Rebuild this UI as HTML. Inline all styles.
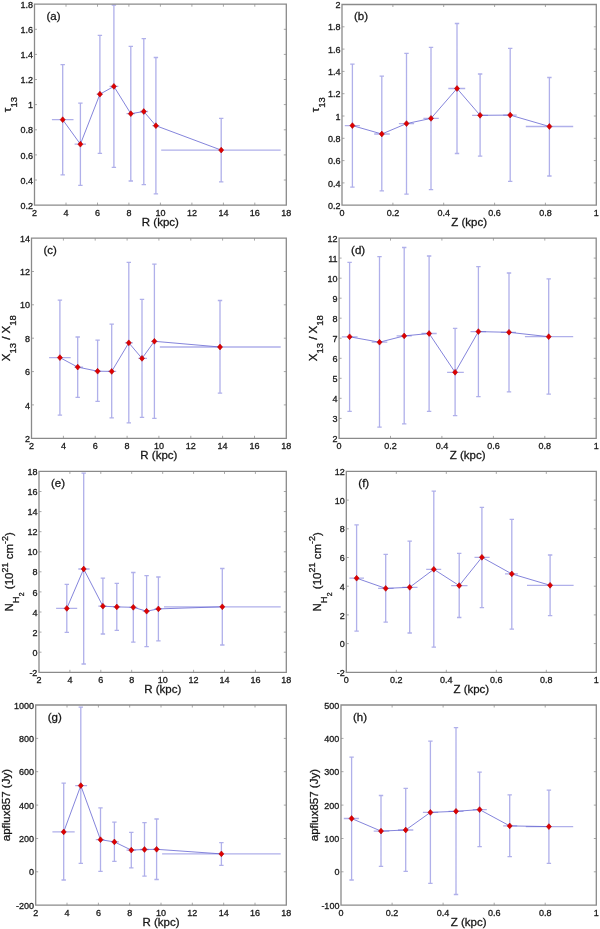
<!DOCTYPE html>
<html><head><meta charset="utf-8"><style>
html,body{margin:0;padding:0;background:#fff;}
svg{display:block;will-change:transform;}
text{font-family:"Liberation Sans",sans-serif;fill:#111;stroke:#222;stroke-width:0.3px;}
</style></head><body>
<svg width="600" height="929" viewBox="0 0 600 929">
<rect width="600" height="929" fill="#fff"/>
<path d="M62.7 64.6V174.9M60.5 64.6H64.9M60.5 174.9H64.9M51.9 119.7H73.5M80.4 103.1V185.3M78.2 103.1H82.6M78.2 185.3H82.6M74.6 144.2H86.0M99.9 35.4V153.3M97.7 35.4H102.1M97.7 153.3H102.1M96.6 94.2H102.7M113.9 5.2V167.3M111.7 5.2H116.1M111.7 167.3H116.1M109.6 86.4H118.3M130.8 46.4V181.0M128.6 46.4H133.0M128.6 181.0H133.0M126.5 113.7H135.0M143.8 38.6V184.7M141.6 38.6H146.0M141.6 184.7H146.0M139.9 111.5H148.1M155.9 57.5V193.8M153.7 57.5H158.1M153.7 193.8H158.1M152.3 125.7H159.3M221.2 118.4V181.9M219.0 118.4H223.4M219.0 181.9H223.4M161.2 150.1H280.7" stroke="#b0b0ea" stroke-width="1.3" fill="none"/>
<polyline points="62.7,119.7 80.4,144.2 99.9,94.2 113.9,86.4 130.8,113.7 143.8,111.5 155.9,125.7 221.2,150.1" stroke="#6464d2" stroke-width="0.8" fill="none"/>
<path d="M62.7 116.8L65.2 119.7L62.7 122.6L60.2 119.7ZM80.4 141.3L82.9 144.2L80.4 147.1L77.9 144.2ZM99.9 91.3L102.4 94.2L99.9 97.1L97.4 94.2ZM113.9 83.5L116.4 86.4L113.9 89.3L111.4 86.4ZM130.8 110.8L133.3 113.7L130.8 116.6L128.3 113.7ZM143.8 108.6L146.3 111.5L143.8 114.4L141.3 111.5ZM155.9 122.8L158.4 125.7L155.9 128.6L153.4 125.7ZM221.2 147.2L223.7 150.1L221.2 153.0L218.7 150.1Z" fill="#e00000" stroke="#b00000" stroke-width="0.6"/>
<path d="M66.0 205.1v-2.5M66.0 4.2v2.5M97.5 205.1v-2.5M97.5 4.2v2.5M128.9 205.1v-2.5M128.9 4.2v2.5M160.4 205.1v-2.5M160.4 4.2v2.5M191.9 205.1v-2.5M191.9 4.2v2.5M223.4 205.1v-2.5M223.4 4.2v2.5M254.8 205.1v-2.5M254.8 4.2v2.5M34.5 180.0h2.5M286.3 180.0h-2.5M34.5 154.9h2.5M286.3 154.9h-2.5M34.5 129.8h2.5M286.3 129.8h-2.5M34.5 104.6h2.5M286.3 104.6h-2.5M34.5 79.5h2.5M286.3 79.5h-2.5M34.5 54.4h2.5M286.3 54.4h-2.5M34.5 29.3h2.5M286.3 29.3h-2.5" stroke="#a8a8a8" stroke-width="1.0" fill="none"/>
<path d="M34.50 4.20H286.30V205.10H34.50Z" stroke="#8a8a8a" stroke-width="1.3" fill="none"/>
<text x="34.5" y="215.7" font-size="9" text-anchor="middle">2</text>
<text x="66.0" y="215.7" font-size="9" text-anchor="middle">4</text>
<text x="97.5" y="215.7" font-size="9" text-anchor="middle">6</text>
<text x="128.9" y="215.7" font-size="9" text-anchor="middle">8</text>
<text x="160.4" y="215.7" font-size="9" text-anchor="middle">10</text>
<text x="191.9" y="215.7" font-size="9" text-anchor="middle">12</text>
<text x="223.4" y="215.7" font-size="9" text-anchor="middle">14</text>
<text x="254.8" y="215.7" font-size="9" text-anchor="middle">16</text>
<text x="286.3" y="215.7" font-size="9" text-anchor="middle">18</text>
<text x="32.9" y="208.7" font-size="9" text-anchor="end">0.2</text>
<text x="32.9" y="183.6" font-size="9" text-anchor="end">0.4</text>
<text x="32.9" y="158.5" font-size="9" text-anchor="end">0.6</text>
<text x="32.9" y="133.4" font-size="9" text-anchor="end">0.8</text>
<text x="32.9" y="108.2" font-size="9" text-anchor="end">1</text>
<text x="32.9" y="83.1" font-size="9" text-anchor="end">1.2</text>
<text x="32.9" y="58.0" font-size="9" text-anchor="end">1.4</text>
<text x="32.9" y="32.9" font-size="9" text-anchor="end">1.6</text>
<text x="32.9" y="7.8" font-size="9" text-anchor="end">1.8</text>
<text x="160.4" y="225.6" font-size="11.5" text-anchor="middle">R (kpc)</text>
<text x="46.5" y="19.8" font-size="11.5">(a)</text>
<text transform="translate(10.8 104.6) rotate(-90)" font-size="11.5" text-anchor="middle"><tspan>&#964;</tspan><tspan font-size="9.5" dy="6">13</tspan></text>
<path d="M352.4 64.2V187.1M350.2 64.2H354.6M350.2 187.1H354.6M344.8 125.6H359.9M381.8 76.2V190.8M379.6 76.2H384.0M379.6 190.8H384.0M374.2 134.0H389.8M406.5 53.4V194.2M404.3 53.4H408.7M404.3 194.2H408.7M398.9 123.6H414.1M431.0 47.3V189.7M428.8 47.3H433.2M428.8 189.7H433.2M423.4 118.4H438.8M457.0 23.5V153.5M454.8 23.5H459.2M454.8 153.5H459.2M448.3 88.5H465.2M480.1 74.0V156.1M477.9 74.0H482.3M477.9 156.1H482.3M472.1 115.3H488.0M510.2 48.3V181.3M508.0 48.3H512.4M508.0 181.3H512.4M503.2 115.1H516.7M549.4 77.5V176.0M547.2 77.5H551.6M547.2 176.0H551.6M525.8 126.5H573.2" stroke="#b0b0ea" stroke-width="1.3" fill="none"/>
<polyline points="352.4,125.6 381.8,134.0 406.5,123.6 431.0,118.4 457.0,88.5 480.1,115.3 510.2,115.1 549.4,126.5" stroke="#6464d2" stroke-width="0.8" fill="none"/>
<path d="M352.4 122.7L354.9 125.6L352.4 128.5L349.9 125.6ZM381.8 131.1L384.3 134.0L381.8 136.9L379.3 134.0ZM406.5 120.7L409.0 123.6L406.5 126.5L404.0 123.6ZM431.0 115.5L433.5 118.4L431.0 121.3L428.5 118.4ZM457.0 85.6L459.5 88.5L457.0 91.4L454.5 88.5ZM480.1 112.4L482.6 115.3L480.1 118.2L477.6 115.3ZM510.2 112.2L512.7 115.1L510.2 118.0L507.7 115.1ZM549.4 123.6L551.9 126.5L549.4 129.4L546.9 126.5Z" fill="#e00000" stroke="#b00000" stroke-width="0.6"/>
<path d="M392.9 205.2v-2.5M392.9 4.5v2.5M443.7 205.2v-2.5M443.7 4.5v2.5M494.6 205.2v-2.5M494.6 4.5v2.5M545.4 205.2v-2.5M545.4 4.5v2.5M342.0 182.9h2.5M596.3 182.9h-2.5M342.0 160.6h2.5M596.3 160.6h-2.5M342.0 138.3h2.5M596.3 138.3h-2.5M342.0 116.0h2.5M596.3 116.0h-2.5M342.0 93.7h2.5M596.3 93.7h-2.5M342.0 71.4h2.5M596.3 71.4h-2.5M342.0 49.1h2.5M596.3 49.1h-2.5M342.0 26.8h2.5M596.3 26.8h-2.5" stroke="#a8a8a8" stroke-width="1.0" fill="none"/>
<path d="M342.00 4.50H596.30V205.20H342.00Z" stroke="#8a8a8a" stroke-width="1.3" fill="none"/>
<text x="342.0" y="215.8" font-size="9" text-anchor="middle">0</text>
<text x="392.9" y="215.8" font-size="9" text-anchor="middle">0.2</text>
<text x="443.7" y="215.8" font-size="9" text-anchor="middle">0.4</text>
<text x="494.6" y="215.8" font-size="9" text-anchor="middle">0.6</text>
<text x="545.4" y="215.8" font-size="9" text-anchor="middle">0.8</text>
<text x="596.3" y="215.8" font-size="9" text-anchor="middle">1</text>
<text x="340.4" y="208.8" font-size="9" text-anchor="end">0.2</text>
<text x="340.4" y="186.5" font-size="9" text-anchor="end">0.4</text>
<text x="340.4" y="164.2" font-size="9" text-anchor="end">0.6</text>
<text x="340.4" y="141.9" font-size="9" text-anchor="end">0.8</text>
<text x="340.4" y="119.6" font-size="9" text-anchor="end">1</text>
<text x="340.4" y="97.3" font-size="9" text-anchor="end">1.2</text>
<text x="340.4" y="75.0" font-size="9" text-anchor="end">1.4</text>
<text x="340.4" y="52.7" font-size="9" text-anchor="end">1.6</text>
<text x="340.4" y="30.4" font-size="9" text-anchor="end">1.8</text>
<text x="340.4" y="8.1" font-size="9" text-anchor="end">2</text>
<text x="469.1" y="225.7" font-size="11.5" text-anchor="middle">Z (kpc)</text>
<text x="354.0" y="20.1" font-size="11.5">(b)</text>
<text transform="translate(318.5 104.8) rotate(-90)" font-size="11.5" text-anchor="middle"><tspan>&#964;</tspan><tspan font-size="9.5" dy="6">13</tspan></text>
<path d="M59.9 300.2V415.2M57.7 300.2H62.1M57.7 415.2H62.1M49.1 357.6H70.7M77.7 337.0V397.4M75.5 337.0H79.9M75.5 397.4H79.9M74.4 367.1H83.1M97.6 340.2V401.3M95.4 340.2H99.8M95.4 401.3H99.8M94.4 371.2H101.1M111.7 324.2V417.8M109.5 324.2H113.9M109.5 417.8H113.9M108.0 371.4H116.2M128.8 262.3V422.8M126.6 262.3H131.0M126.6 422.8H131.0M124.9 342.8H132.9M142.0 299.3V417.3M139.8 299.3H144.2M139.8 417.3H144.2M138.3 358.4H147.0M154.4 264.2V418.3M152.2 264.2H156.6M152.2 418.3H156.6M151.0 341.3H157.5M220.0 300.5V393.2M217.8 300.5H222.2M217.8 393.2H222.2M159.8 347.0H280.7" stroke="#b0b0ea" stroke-width="1.3" fill="none"/>
<polyline points="59.9,357.6 77.7,367.1 97.6,371.2 111.7,371.4 128.8,342.8 142.0,358.4 154.4,341.3 220.0,347.0" stroke="#6464d2" stroke-width="0.8" fill="none"/>
<path d="M59.9 354.7L62.4 357.6L59.9 360.5L57.4 357.6ZM77.7 364.2L80.2 367.1L77.7 370.0L75.2 367.1ZM97.6 368.3L100.1 371.2L97.6 374.1L95.1 371.2ZM111.7 368.5L114.2 371.4L111.7 374.3L109.2 371.4ZM128.8 339.9L131.3 342.8L128.8 345.7L126.3 342.8ZM142.0 355.5L144.5 358.4L142.0 361.3L139.5 358.4ZM154.4 338.4L156.9 341.3L154.4 344.2L151.9 341.3ZM220.0 344.1L222.5 347.0L220.0 349.9L217.5 347.0Z" fill="#e00000" stroke="#b00000" stroke-width="0.6"/>
<path d="M63.4 438.3v-2.5M63.4 238.1v2.5M95.2 438.3v-2.5M95.2 238.1v2.5M127.1 438.3v-2.5M127.1 238.1v2.5M158.9 438.3v-2.5M158.9 238.1v2.5M190.8 438.3v-2.5M190.8 238.1v2.5M222.6 438.3v-2.5M222.6 238.1v2.5M254.5 438.3v-2.5M254.5 238.1v2.5M31.5 404.9h2.5M286.3 404.9h-2.5M31.5 371.6h2.5M286.3 371.6h-2.5M31.5 338.2h2.5M286.3 338.2h-2.5M31.5 304.8h2.5M286.3 304.8h-2.5M31.5 271.5h2.5M286.3 271.5h-2.5" stroke="#a8a8a8" stroke-width="1.0" fill="none"/>
<path d="M31.50 238.10H286.30V438.30H31.50Z" stroke="#8a8a8a" stroke-width="1.3" fill="none"/>
<text x="31.5" y="448.9" font-size="9" text-anchor="middle">2</text>
<text x="63.4" y="448.9" font-size="9" text-anchor="middle">4</text>
<text x="95.2" y="448.9" font-size="9" text-anchor="middle">6</text>
<text x="127.1" y="448.9" font-size="9" text-anchor="middle">8</text>
<text x="158.9" y="448.9" font-size="9" text-anchor="middle">10</text>
<text x="190.8" y="448.9" font-size="9" text-anchor="middle">12</text>
<text x="222.6" y="448.9" font-size="9" text-anchor="middle">14</text>
<text x="254.5" y="448.9" font-size="9" text-anchor="middle">16</text>
<text x="286.3" y="448.9" font-size="9" text-anchor="middle">18</text>
<text x="29.9" y="441.9" font-size="9" text-anchor="end">2</text>
<text x="29.9" y="408.5" font-size="9" text-anchor="end">4</text>
<text x="29.9" y="375.2" font-size="9" text-anchor="end">6</text>
<text x="29.9" y="341.8" font-size="9" text-anchor="end">8</text>
<text x="29.9" y="308.4" font-size="9" text-anchor="end">10</text>
<text x="29.9" y="275.1" font-size="9" text-anchor="end">12</text>
<text x="29.9" y="241.7" font-size="9" text-anchor="end">14</text>
<text x="158.9" y="458.8" font-size="11.5" text-anchor="middle">R (kpc)</text>
<text x="43.5" y="253.7" font-size="11.5">(c)</text>
<text transform="translate(10.2 338.2) rotate(-90)" font-size="11.5" text-anchor="middle">X<tspan font-size="9.5" dy="6">13</tspan><tspan dy="-6"> / X</tspan><tspan font-size="9.5" dy="6">18</tspan></text>
<path d="M349.6 262.3V411.3M347.4 262.3H351.8M347.4 411.3H351.8M341.8 336.8H357.6M379.5 256.6V427.1M377.3 256.6H381.7M377.3 427.1H381.7M371.7 342.2H387.3M404.2 247.5V423.8M402.0 247.5H406.4M402.0 423.8H406.4M396.6 335.9H411.8M429.1 256.0V411.3M426.9 256.0H431.3M426.9 411.3H431.3M421.5 333.5H436.7M455.1 328.3V415.6M452.9 328.3H457.3M452.9 415.6H457.3M447.1 372.3H463.8M478.4 266.7V396.7M476.2 266.7H480.6M476.2 396.7H480.6M470.5 331.6H486.1M509.0 273.0V391.8M506.8 273.0H511.2M506.8 391.8H511.2M500.8 332.3H516.0M548.7 278.8V394.1M546.5 278.8H550.9M546.5 394.1H550.9M524.9 336.7H573.2" stroke="#b0b0ea" stroke-width="1.3" fill="none"/>
<polyline points="349.6,336.8 379.5,342.2 404.2,335.9 429.1,333.5 455.1,372.3 478.4,331.6 509.0,332.3 548.7,336.7" stroke="#6464d2" stroke-width="0.8" fill="none"/>
<path d="M349.6 333.9L352.1 336.8L349.6 339.7L347.1 336.8ZM379.5 339.3L382.0 342.2L379.5 345.1L377.0 342.2ZM404.2 333.0L406.7 335.9L404.2 338.8L401.7 335.9ZM429.1 330.6L431.6 333.5L429.1 336.4L426.6 333.5ZM455.1 369.4L457.6 372.3L455.1 375.2L452.6 372.3ZM478.4 328.7L480.9 331.6L478.4 334.5L475.9 331.6ZM509.0 329.4L511.5 332.3L509.0 335.2L506.5 332.3ZM548.7 333.8L551.2 336.7L548.7 339.6L546.2 336.7Z" fill="#e00000" stroke="#b00000" stroke-width="0.6"/>
<path d="M390.5 438.4v-2.5M390.5 238.1v2.5M441.9 438.4v-2.5M441.9 238.1v2.5M493.4 438.4v-2.5M493.4 238.1v2.5M544.8 438.4v-2.5M544.8 238.1v2.5M339.1 418.4h2.5M596.2 418.4h-2.5M339.1 398.3h2.5M596.2 398.3h-2.5M339.1 378.3h2.5M596.2 378.3h-2.5M339.1 358.3h2.5M596.2 358.3h-2.5M339.1 338.2h2.5M596.2 338.2h-2.5M339.1 318.2h2.5M596.2 318.2h-2.5M339.1 298.2h2.5M596.2 298.2h-2.5M339.1 278.2h2.5M596.2 278.2h-2.5M339.1 258.1h2.5M596.2 258.1h-2.5" stroke="#a8a8a8" stroke-width="1.0" fill="none"/>
<path d="M339.10 238.10H596.20V438.40H339.10Z" stroke="#8a8a8a" stroke-width="1.3" fill="none"/>
<text x="339.1" y="449.0" font-size="9" text-anchor="middle">0</text>
<text x="390.5" y="449.0" font-size="9" text-anchor="middle">0.2</text>
<text x="441.9" y="449.0" font-size="9" text-anchor="middle">0.4</text>
<text x="493.4" y="449.0" font-size="9" text-anchor="middle">0.6</text>
<text x="544.8" y="449.0" font-size="9" text-anchor="middle">0.8</text>
<text x="596.2" y="449.0" font-size="9" text-anchor="middle">1</text>
<text x="337.5" y="442.0" font-size="9" text-anchor="end">2</text>
<text x="337.5" y="422.0" font-size="9" text-anchor="end">3</text>
<text x="337.5" y="401.9" font-size="9" text-anchor="end">4</text>
<text x="337.5" y="381.9" font-size="9" text-anchor="end">5</text>
<text x="337.5" y="361.9" font-size="9" text-anchor="end">6</text>
<text x="337.5" y="341.9" font-size="9" text-anchor="end">7</text>
<text x="337.5" y="321.8" font-size="9" text-anchor="end">8</text>
<text x="337.5" y="301.8" font-size="9" text-anchor="end">9</text>
<text x="337.5" y="281.8" font-size="9" text-anchor="end">10</text>
<text x="337.5" y="261.7" font-size="9" text-anchor="end">11</text>
<text x="337.5" y="241.7" font-size="9" text-anchor="end">12</text>
<text x="467.7" y="458.9" font-size="11.5" text-anchor="middle">Z (kpc)</text>
<text x="351.1" y="253.7" font-size="11.5">(d)</text>
<text transform="translate(316.5 338.2) rotate(-90)" font-size="11.5" text-anchor="middle">X<tspan font-size="9.5" dy="6">13</tspan><tspan dy="-6"> / X</tspan><tspan font-size="9.5" dy="6">18</tspan></text>
<path d="M66.8 584.3V632.3M64.6 584.3H69.0M64.6 632.3H69.0M56.1 608.4H77.2M83.7 473.2V664.0M81.5 473.2H85.9M81.5 664.0H85.9M78.3 569.0H89.6M102.9 578.2V634.0M100.7 578.2H105.1M100.7 634.0H105.1M98.3 606.2H106.6M116.8 583.4V630.3M114.6 583.4H119.0M114.6 630.3H119.0M113.0 606.9H120.3M133.3 572.5V642.1M131.1 572.5H135.5M131.1 642.1H135.5M129.4 607.3H137.4M146.6 575.6V646.7M144.4 575.6H148.8M144.4 646.7H148.8M142.7 611.2H150.0M158.4 577.0V640.8M156.2 577.0H160.6M156.2 640.8H160.6M154.5 608.9H162.0M222.3 568.5V645.0M220.1 568.5H224.5M220.1 645.0H224.5M164.0 606.8H280.7" stroke="#b0b0ea" stroke-width="1.3" fill="none"/>
<polyline points="66.8,608.4 83.7,569.0 102.9,606.2 116.8,606.9 133.3,607.3 146.6,611.2 158.4,608.9 222.3,606.8" stroke="#6464d2" stroke-width="0.8" fill="none"/>
<path d="M66.8 605.5L69.3 608.4L66.8 611.3L64.3 608.4ZM83.7 566.1L86.2 569.0L83.7 571.9L81.2 569.0ZM102.9 603.3L105.4 606.2L102.9 609.1L100.4 606.2ZM116.8 604.0L119.3 606.9L116.8 609.8L114.3 606.9ZM133.3 604.4L135.8 607.3L133.3 610.2L130.8 607.3ZM146.6 608.3L149.1 611.2L146.6 614.1L144.1 611.2ZM158.4 606.0L160.9 608.9L158.4 611.8L155.9 608.9ZM222.3 603.9L224.8 606.8L222.3 609.7L219.8 606.8Z" fill="#e00000" stroke="#b00000" stroke-width="0.6"/>
<path d="M69.9 672.3v-2.5M69.9 471.4v2.5M100.8 672.3v-2.5M100.8 471.4v2.5M131.7 672.3v-2.5M131.7 471.4v2.5M162.7 672.3v-2.5M162.7 471.4v2.5M193.6 672.3v-2.5M193.6 471.4v2.5M224.5 672.3v-2.5M224.5 471.4v2.5M255.4 672.3v-2.5M255.4 471.4v2.5M39.0 652.2h2.5M286.3 652.2h-2.5M39.0 632.1h2.5M286.3 632.1h-2.5M39.0 612.0h2.5M286.3 612.0h-2.5M39.0 591.9h2.5M286.3 591.9h-2.5M39.0 571.8h2.5M286.3 571.8h-2.5M39.0 551.8h2.5M286.3 551.8h-2.5M39.0 531.7h2.5M286.3 531.7h-2.5M39.0 511.6h2.5M286.3 511.6h-2.5M39.0 491.5h2.5M286.3 491.5h-2.5" stroke="#a8a8a8" stroke-width="1.0" fill="none"/>
<path d="M39.00 471.40H286.30V672.30H39.00Z" stroke="#8a8a8a" stroke-width="1.3" fill="none"/>
<text x="39.0" y="682.9" font-size="9" text-anchor="middle">2</text>
<text x="69.9" y="682.9" font-size="9" text-anchor="middle">4</text>
<text x="100.8" y="682.9" font-size="9" text-anchor="middle">6</text>
<text x="131.7" y="682.9" font-size="9" text-anchor="middle">8</text>
<text x="162.7" y="682.9" font-size="9" text-anchor="middle">10</text>
<text x="193.6" y="682.9" font-size="9" text-anchor="middle">12</text>
<text x="224.5" y="682.9" font-size="9" text-anchor="middle">14</text>
<text x="255.4" y="682.9" font-size="9" text-anchor="middle">16</text>
<text x="286.3" y="682.9" font-size="9" text-anchor="middle">18</text>
<text x="37.4" y="675.9" font-size="9" text-anchor="end">-2</text>
<text x="37.4" y="655.8" font-size="9" text-anchor="end">0</text>
<text x="37.4" y="635.7" font-size="9" text-anchor="end">2</text>
<text x="37.4" y="615.6" font-size="9" text-anchor="end">4</text>
<text x="37.4" y="595.5" font-size="9" text-anchor="end">6</text>
<text x="37.4" y="575.4" font-size="9" text-anchor="end">8</text>
<text x="37.4" y="555.4" font-size="9" text-anchor="end">10</text>
<text x="37.4" y="535.3" font-size="9" text-anchor="end">12</text>
<text x="37.4" y="515.2" font-size="9" text-anchor="end">14</text>
<text x="37.4" y="495.1" font-size="9" text-anchor="end">16</text>
<text x="37.4" y="475.0" font-size="9" text-anchor="end">18</text>
<text x="162.7" y="692.8" font-size="11.5" text-anchor="middle">R (kpc)</text>
<text x="51.0" y="487.0" font-size="11.5">(e)</text>
<text transform="translate(12.9 571.8) rotate(-90)" font-size="11.5" text-anchor="middle">N<tspan font-size="9.5" dy="6">H</tspan><tspan font-size="7" dy="5.6">2</tspan><tspan dy="-11.6"> (10</tspan><tspan font-size="9" dy="-5.4">21</tspan><tspan dy="5.4"> cm</tspan><tspan font-size="9" dy="-5.4">-2</tspan><tspan dy="5.4">)</tspan></text>
<path d="M356.6 524.9V631.2M354.4 524.9H358.8M354.4 631.2H358.8M349.4 578.2H364.0M385.7 554.3V622.1M383.5 554.3H387.9M383.5 622.1H387.9M378.1 588.4H393.6M409.7 541.2V633.0M407.5 541.2H411.9M407.5 633.0H411.9M402.3 587.3H417.5M433.8 491.2V647.1M431.6 491.2H436.0M431.6 647.1H436.0M426.2 569.3H441.2M459.2 553.4V617.5M457.0 553.4H461.4M457.0 617.5H461.4M451.2 585.6H467.5M481.9 507.4V607.7M479.7 507.4H484.1M479.7 607.7H484.1M474.5 557.3H489.6M511.8 519.3V629.2M509.6 519.3H514.0M509.6 629.2H514.0M505.0 573.9H517.9M550.1 555.0V615.6M547.9 555.0H552.3M547.9 615.6H552.3M527.0 585.3H573.6" stroke="#b0b0ea" stroke-width="1.3" fill="none"/>
<polyline points="356.6,578.2 385.7,588.4 409.7,587.3 433.8,569.3 459.2,585.6 481.9,557.3 511.8,573.9 550.1,585.3" stroke="#6464d2" stroke-width="0.8" fill="none"/>
<path d="M356.6 575.3L359.1 578.2L356.6 581.1L354.1 578.2ZM385.7 585.5L388.2 588.4L385.7 591.3L383.2 588.4ZM409.7 584.4L412.2 587.3L409.7 590.2L407.2 587.3ZM433.8 566.4L436.3 569.3L433.8 572.2L431.3 569.3ZM459.2 582.7L461.7 585.6L459.2 588.5L456.7 585.6ZM481.9 554.4L484.4 557.3L481.9 560.2L479.4 557.3ZM511.8 571.0L514.3 573.9L511.8 576.8L509.3 573.9ZM550.1 582.4L552.6 585.3L550.1 588.2L547.6 585.3Z" fill="#e00000" stroke="#b00000" stroke-width="0.6"/>
<path d="M396.3 672.3v-2.5M396.3 471.4v2.5M446.3 672.3v-2.5M446.3 471.4v2.5M496.3 672.3v-2.5M496.3 471.4v2.5M546.3 672.3v-2.5M546.3 471.4v2.5M346.3 643.6h2.5M596.3 643.6h-2.5M346.3 614.9h2.5M596.3 614.9h-2.5M346.3 586.2h2.5M596.3 586.2h-2.5M346.3 557.5h2.5M596.3 557.5h-2.5M346.3 528.8h2.5M596.3 528.8h-2.5M346.3 500.1h2.5M596.3 500.1h-2.5" stroke="#a8a8a8" stroke-width="1.0" fill="none"/>
<path d="M346.30 471.40H596.30V672.30H346.30Z" stroke="#8a8a8a" stroke-width="1.3" fill="none"/>
<text x="346.3" y="682.9" font-size="9" text-anchor="middle">0</text>
<text x="396.3" y="682.9" font-size="9" text-anchor="middle">0.2</text>
<text x="446.3" y="682.9" font-size="9" text-anchor="middle">0.4</text>
<text x="496.3" y="682.9" font-size="9" text-anchor="middle">0.6</text>
<text x="546.3" y="682.9" font-size="9" text-anchor="middle">0.8</text>
<text x="596.3" y="682.9" font-size="9" text-anchor="middle">1</text>
<text x="344.7" y="675.9" font-size="9" text-anchor="end">-2</text>
<text x="344.7" y="647.2" font-size="9" text-anchor="end">0</text>
<text x="344.7" y="618.5" font-size="9" text-anchor="end">2</text>
<text x="344.7" y="589.8" font-size="9" text-anchor="end">4</text>
<text x="344.7" y="561.1" font-size="9" text-anchor="end">6</text>
<text x="344.7" y="532.4" font-size="9" text-anchor="end">8</text>
<text x="344.7" y="503.7" font-size="9" text-anchor="end">10</text>
<text x="344.7" y="475.0" font-size="9" text-anchor="end">12</text>
<text x="471.3" y="692.8" font-size="11.5" text-anchor="middle">Z (kpc)</text>
<text x="358.3" y="487.0" font-size="11.5">(f)</text>
<text transform="translate(320.7 571.8) rotate(-90)" font-size="11.5" text-anchor="middle">N<tspan font-size="9.5" dy="6">H</tspan><tspan font-size="7" dy="5.6">2</tspan><tspan dy="-11.6"> (10</tspan><tspan font-size="9" dy="-5.4">21</tspan><tspan dy="5.4"> cm</tspan><tspan font-size="9" dy="-5.4">-2</tspan><tspan dy="5.4">)</tspan></text>
<path d="M63.7 783.2V880.0M61.5 783.2H65.9M61.5 880.0H65.9M52.4 831.9H74.7M80.8 707.2V863.3M78.6 707.2H83.0M78.6 863.3H83.0M75.2 785.6H87.1M100.5 807.9V871.3M98.3 807.9H102.7M98.3 871.3H102.7M95.8 839.7H104.4M114.4 822.2V861.4M112.2 822.2H116.6M112.2 861.4H116.6M110.9 841.9H118.9M131.3 832.4V867.9M129.1 832.4H133.5M129.1 867.9H133.5M126.5 850.1H135.8M144.5 822.6V876.1M142.3 822.6H146.7M142.3 876.1H146.7M140.2 849.5H148.8M156.6 819.0V879.5M154.4 819.0H158.8M154.4 879.5H158.8M153.0 849.3H160.0M221.4 842.7V865.4M219.2 842.7H223.6M219.2 865.4H223.6M162.1 853.9H280.7" stroke="#b0b0ea" stroke-width="1.3" fill="none"/>
<polyline points="63.7,831.9 80.8,785.6 100.5,839.7 114.4,841.9 131.3,850.1 144.5,849.5 156.6,849.3 221.4,853.9" stroke="#6464d2" stroke-width="0.8" fill="none"/>
<path d="M63.7 829.0L66.2 831.9L63.7 834.8L61.2 831.9ZM80.8 782.7L83.3 785.6L80.8 788.5L78.3 785.6ZM100.5 836.8L103.0 839.7L100.5 842.6L98.0 839.7ZM114.4 839.0L116.9 841.9L114.4 844.8L111.9 841.9ZM131.3 847.2L133.8 850.1L131.3 853.0L128.8 850.1ZM144.5 846.6L147.0 849.5L144.5 852.4L142.0 849.5ZM156.6 846.4L159.1 849.3L156.6 852.2L154.1 849.3ZM221.4 851.0L223.9 853.9L221.4 856.8L218.9 853.9Z" fill="#e00000" stroke="#b00000" stroke-width="0.6"/>
<path d="M67.0 905.2v-2.5M67.0 705.0v2.5M98.4 905.2v-2.5M98.4 705.0v2.5M129.7 905.2v-2.5M129.7 705.0v2.5M161.0 905.2v-2.5M161.0 705.0v2.5M192.3 905.2v-2.5M192.3 705.0v2.5M223.7 905.2v-2.5M223.7 705.0v2.5M255.0 905.2v-2.5M255.0 705.0v2.5M35.7 871.8h2.5M286.3 871.8h-2.5M35.7 838.5h2.5M286.3 838.5h-2.5M35.7 805.1h2.5M286.3 805.1h-2.5M35.7 771.7h2.5M286.3 771.7h-2.5M35.7 738.4h2.5M286.3 738.4h-2.5" stroke="#a8a8a8" stroke-width="1.0" fill="none"/>
<path d="M35.70 705.00H286.30V905.20H35.70Z" stroke="#8a8a8a" stroke-width="1.3" fill="none"/>
<text x="35.7" y="915.8" font-size="9" text-anchor="middle">2</text>
<text x="67.0" y="915.8" font-size="9" text-anchor="middle">4</text>
<text x="98.4" y="915.8" font-size="9" text-anchor="middle">6</text>
<text x="129.7" y="915.8" font-size="9" text-anchor="middle">8</text>
<text x="161.0" y="915.8" font-size="9" text-anchor="middle">10</text>
<text x="192.3" y="915.8" font-size="9" text-anchor="middle">12</text>
<text x="223.7" y="915.8" font-size="9" text-anchor="middle">14</text>
<text x="255.0" y="915.8" font-size="9" text-anchor="middle">16</text>
<text x="286.3" y="915.8" font-size="9" text-anchor="middle">18</text>
<text x="34.1" y="908.8" font-size="9" text-anchor="end">-200</text>
<text x="34.1" y="875.4" font-size="9" text-anchor="end">0</text>
<text x="34.1" y="842.1" font-size="9" text-anchor="end">200</text>
<text x="34.1" y="808.7" font-size="9" text-anchor="end">400</text>
<text x="34.1" y="775.3" font-size="9" text-anchor="end">600</text>
<text x="34.1" y="742.0" font-size="9" text-anchor="end">800</text>
<text x="34.1" y="708.6" font-size="9" text-anchor="end">1000</text>
<text x="161.0" y="925.7" font-size="11.5" text-anchor="middle">R (kpc)</text>
<text x="47.7" y="720.6" font-size="11.5">(g)</text>
<text transform="translate(10.2 805.1) rotate(-90)" font-size="11.5" text-anchor="middle">apflux857 (Jy)</text>
<path d="M351.6 757.2V880.0M349.4 757.2H353.8M349.4 880.0H353.8M343.8 818.5H358.9M381.0 795.5V866.4M378.8 795.5H383.2M378.8 866.4H383.2M373.7 831.1H389.3M405.7 788.4V871.3M403.5 788.4H407.9M403.5 871.3H407.9M397.9 830.0H413.3M430.4 741.2V883.3M428.2 741.2H432.6M428.2 883.3H432.6M422.9 812.4H438.2M456.0 727.7V894.5M453.8 727.7H458.2M453.8 894.5H458.2M448.5 811.3H463.5M479.6 772.2V846.7M477.4 772.2H481.8M477.4 846.7H481.8M472.8 809.6H486.8M509.7 794.9V856.7M507.5 794.9H511.9M507.5 856.7H511.9M503.2 825.9H517.2M548.9 790.2V863.3M546.7 790.2H551.1M546.7 863.3H551.1M525.8 826.6H573.2" stroke="#b0b0ea" stroke-width="1.3" fill="none"/>
<polyline points="351.6,818.5 381.0,831.1 405.7,830.0 430.4,812.4 456.0,811.3 479.6,809.6 509.7,825.9 548.9,826.6" stroke="#6464d2" stroke-width="0.8" fill="none"/>
<path d="M351.6 815.6L354.1 818.5L351.6 821.4L349.1 818.5ZM381.0 828.2L383.5 831.1L381.0 834.0L378.5 831.1ZM405.7 827.1L408.2 830.0L405.7 832.9L403.2 830.0ZM430.4 809.5L432.9 812.4L430.4 815.3L427.9 812.4ZM456.0 808.4L458.5 811.3L456.0 814.2L453.5 811.3ZM479.6 806.7L482.1 809.6L479.6 812.5L477.1 809.6ZM509.7 823.0L512.2 825.9L509.7 828.8L507.2 825.9ZM548.9 823.7L551.4 826.6L548.9 829.5L546.4 826.6Z" fill="#e00000" stroke="#b00000" stroke-width="0.6"/>
<path d="M392.1 905.2v-2.5M392.1 705.0v2.5M443.1 905.2v-2.5M443.1 705.0v2.5M494.2 905.2v-2.5M494.2 705.0v2.5M545.2 905.2v-2.5M545.2 705.0v2.5M341.0 871.8h2.5M596.3 871.8h-2.5M341.0 838.5h2.5M596.3 838.5h-2.5M341.0 805.1h2.5M596.3 805.1h-2.5M341.0 771.7h2.5M596.3 771.7h-2.5M341.0 738.4h2.5M596.3 738.4h-2.5" stroke="#a8a8a8" stroke-width="1.0" fill="none"/>
<path d="M341.00 705.00H596.30V905.20H341.00Z" stroke="#8a8a8a" stroke-width="1.3" fill="none"/>
<text x="341.0" y="915.8" font-size="9" text-anchor="middle">0</text>
<text x="392.1" y="915.8" font-size="9" text-anchor="middle">0.2</text>
<text x="443.1" y="915.8" font-size="9" text-anchor="middle">0.4</text>
<text x="494.2" y="915.8" font-size="9" text-anchor="middle">0.6</text>
<text x="545.2" y="915.8" font-size="9" text-anchor="middle">0.8</text>
<text x="596.3" y="915.8" font-size="9" text-anchor="middle">1</text>
<text x="339.4" y="908.8" font-size="9" text-anchor="end">-100</text>
<text x="339.4" y="875.4" font-size="9" text-anchor="end">0</text>
<text x="339.4" y="842.1" font-size="9" text-anchor="end">100</text>
<text x="339.4" y="808.7" font-size="9" text-anchor="end">200</text>
<text x="339.4" y="775.3" font-size="9" text-anchor="end">300</text>
<text x="339.4" y="742.0" font-size="9" text-anchor="end">400</text>
<text x="339.4" y="708.6" font-size="9" text-anchor="end">500</text>
<text x="468.6" y="925.7" font-size="11.5" text-anchor="middle">Z (kpc)</text>
<text x="353.0" y="720.6" font-size="11.5">(h)</text>
<text transform="translate(317.5 805.1) rotate(-90)" font-size="11.5" text-anchor="middle">apflux857 (Jy)</text>
</svg>
</body></html>
